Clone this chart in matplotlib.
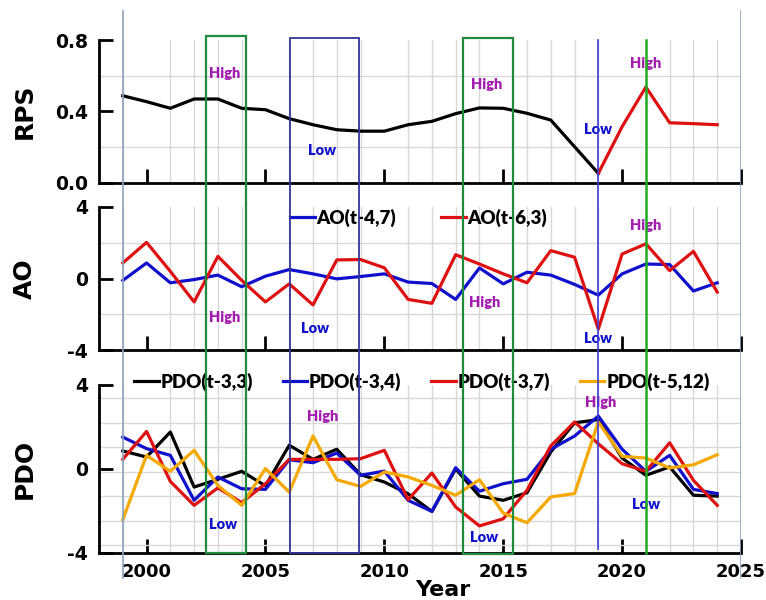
import numpy as np
import matplotlib.pyplot as plt
from matplotlib.patches import Rectangle
from matplotlib.ticker import MultipleLocator

plt.rcParams['axes.unicode_minus'] = False
plt.rcParams['font.family'] = ['DejaVu Sans']

# --- data ---
years = np.arange(1999, 2025)
rps_years = np.arange(1999, 2020)
rps = [0.488, 0.455, 0.418, 0.47, 0.47, 0.418, 0.41, 0.36, 0.326, 0.298, 0.29,
       0.29, 0.326, 0.345, 0.388, 0.42, 0.418, 0.39, 0.352, 0.203, 0.054]
rps_new_years = np.arange(2019, 2025)
rps_new = [0.054, 0.315, 0.537, 0.337, 0.332, 0.326]

ao_47 = [-0.11, 0.87, -0.24, -0.06, 0.19, -0.46, 0.13, 0.5, 0.26, -0.02, 0.11, 0.26, -0.2,
         -0.28, -1.17, 0.59, -0.3, 0.35, 0.19, -0.33, -0.93, 0.26, 0.81, 0.78, -0.7, -0.24]
ao_63 = [0.87, 2.02, 0.4, -1.31, 1.24, -0.1, -1.31, -0.3, -1.48, 1.04, 1.06, 0.6, -1.17,
         -1.39, 1.33, 0.81, 0.26, -0.24, 1.56, 1.19, -2.83, 1.37, 1.94, 0.44, 1.52, -0.76]

pdo_33 = [0.86, 0.57, 1.76, -0.86, -0.49, -0.11, -0.8, 1.13, 0.46, 0.94, -0.27, -0.62, -1.18,
          -2.02, 0.0, -1.29, -1.49, -1.13, 0.81, 2.2, 2.35, 0.52, -0.3, 0.1, -1.25, -1.29]
pdo_34 = [1.52, 0.97, 0.65, -1.49, -0.38, -0.94, -0.97, 0.44, 0.3, 0.76, -0.3, -0.1, -1.49,
          -2.02, 0.06, -1.06, -0.7, -0.49, 0.94, 1.57, 2.52, 0.94, -0.11, 0.65, -0.97, -1.17]
pdo_37 = [0.46, 1.79, -0.59, -1.73, -0.9, -1.6, -0.7, 0.46, 0.46, 0.46, 0.49, 0.89, -1.46,
          -0.19, -1.81, -2.71, -2.37, -1.01, 1.1, 2.24, 1.2, 0.25, -0.11, 1.25, -0.54, -1.73]
pdo_512 = [-2.41, 0.65, -0.11, 0.89, -0.78, -1.73, 0.02, -1.1, 1.57, -0.51, -0.83, -0.14, -0.38,
           -0.78, -1.25, -0.51, -2.1, -2.56, -1.33, -1.17, 2.24, 0.6, 0.52, 0.05, 0.2, 0.68]

# (x, y, text) of the High/Low notes in each panel
rps_notes = [(2003.3, 0.615, 'High'), (2007.4, 0.18, 'Low'), (2014.3, 0.55, 'High'),
             (2019.0, 0.30, 'Low'), (2021.0, 0.67, 'High')]
ao_notes = [(2003.3, -2.17, 'High'), (2007.1, -2.78, 'Low'), (2014.2, -1.33, 'High'),
            (2019.0, -3.33, 'Low'), (2021.0, 2.94, 'High')]
pdo_notes = [(2007.4, 2.52, 'High'), (2003.2, -2.62, 'Low'), (2014.2, -3.24, 'Low'),
             (2019.1, 3.19, 'High'), (2021.0, -1.67, 'Low')]

BLUE = '#1010cc'
RED = '#dd1111'
ORANGE = '#f5a800'
PURPLE = '#a21caf'
note_font = dict(family='Lato', weight='heavy', size=10.5)
leg_font = dict(family='Lato', weight='heavy', size=13.5)

fig = plt.figure(figsize=(7.66, 6.0), dpi=100)
L, W = 99 / 766, 642 / 766
ax1 = fig.add_axes([L, 1 - 183 / 600, W, 143 / 600])
ax2 = fig.add_axes([L, 1 - 350 / 600, W, 143 / 600])
ax3 = fig.add_axes([L, 1 - 553 / 600, W, 168 / 600])


def style(ax, ylim, yticks, yminor):
    ax.set_xlim(1998, 2025)
    ax.set_ylim(*ylim)
    ax.set_xticks(np.arange(2000, 2026, 5))
    ax.xaxis.set_minor_locator(MultipleLocator(1))
    ax.set_yticks(yticks)
    ax.set_yticks(yminor, minor=True)
    ax.grid(which='minor', color='#d8d8d8', lw=1)
    ax.set_axisbelow(True)
    for s in ['top', 'right']:
        ax.spines[s].set_visible(False)
    for s in ['left', 'bottom']:
        ax.spines[s].set_linewidth(2)
    ax.tick_params(which='major', direction='in', length=10, width=2, labelsize=13.5, pad=8)
    ax.tick_params(which='minor', length=0)
    for lab in ax.get_yticklabels() + ax.get_xticklabels():
        lab.set_fontweight('bold')


# RPS
ax1.plot(rps_years, rps, color='black', lw=2.3)
ax1.plot(rps_new_years, rps_new, color=RED, lw=2.3)
style(ax1, (0, 0.8), [0, 0.4, 0.8], np.arange(0.2, 0.81, 0.2))
ax1.set_xticklabels([])
for x, y, t in rps_notes:
    ax1.text(x, y, t, ha='center', va='center', color=PURPLE if t == 'High' else BLUE, **note_font)

# AO
ax2.plot(years, ao_47, color=BLUE, lw=2.3, label='AO(t-4,7)')
ax2.plot(years, ao_63, color=RED, lw=2.3, label='AO(t-6,3)')
style(ax2, (-4, 4), [-4, 0, 4], [-2, 0, 2, 4])
ax2.set_xticklabels([])
ax2.legend(ncol=2, loc='center', bbox_to_anchor=(0.498, 0.923), frameon=False, prop=leg_font,
           handlelength=1.3, handletextpad=0.1, columnspacing=2.4, borderpad=0)
for x, y, t in ao_notes:
    ax2.text(x, y, t, ha='center', va='center', color=PURPLE if t == 'High' else BLUE, **note_font)

# PDO
ax3.plot(years, pdo_33, color='black', lw=2.3, label='PDO(t-3,3)')
ax3.plot(years, pdo_34, color=BLUE, lw=2.3, label='PDO(t-3,4)')
ax3.plot(years, pdo_37, color=RED, lw=2.3, label='PDO(t-3,7)')
ax3.plot(years, pdo_512, color=ORANGE, lw=2.3, label='PDO(t-5,12)')
style(ax3, (-4, 4), [-4, 0, 4], np.linspace(-3.62, 3.38, 7))
ax3.tick_params(axis='x', labelsize=13, pad=7)
ax3.legend(ncol=4, loc='center', bbox_to_anchor=(0.503, 1.018), frameon=False, prop=leg_font,
           handlelength=1.3, handletextpad=0.1, columnspacing=1.6, borderpad=0)
for x, y, t in pdo_notes:
    ax3.text(x, y, t, ha='center', va='center', color=PURPLE if t == 'High' else BLUE, **note_font)
ax3.set_xlabel('Year', fontsize=16, fontweight='bold')
ax3.xaxis.set_label_coords(0.536, -0.16)

for ax, name in [(ax1, 'RPS'), (ax2, 'AO'), (ax3, 'PDO')]:
    ax.set_ylabel(name, fontsize=18, fontweight='bold')
    ax.yaxis.set_label_coords(-0.097, 0.5)

# boxes and marker lines running through all three panels (y in pixels from top)
ov = fig.add_axes([L, 0, W, 1])
ov.set_xlim(1998, 2025)
ov.set_ylim(600, 0)
ov.axis('off')
ov.add_patch(Rectangle((2002.5, 36), 1.7, 517, fill=False, ec='#1e8c3c', lw=1.6))
ov.add_patch(Rectangle((2006.05, 38), 2.9, 515, fill=False, ec='#35359a', lw=1.3))
ov.add_patch(Rectangle((2013.3, 38), 2.1, 516, fill=False, ec='#1e8c3c', lw=1.6))
ov.plot([2019, 2019], [40, 549], color='#3c3cd8', lw=1.2)
ov.plot([2021, 2021], [40, 553], color='#22aa22', lw=1.8)
ov.plot([1999, 1999], [11, 578], color='#8aa4c0', lw=1.2)
ov.plot([2025, 2025], [11, 578], color='#8aa4c0', lw=1.2)

fig.savefig('out.png', dpi=100)
